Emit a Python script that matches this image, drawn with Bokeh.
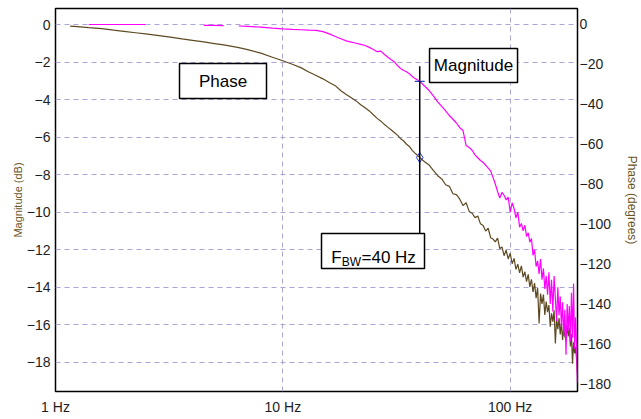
import numpy as np
from bokeh.plotting import figure
from bokeh.models import Range1d, LinearAxis, FixedTicker, CustomJSTickFormatter, ColumnDataSource
from bokeh.core.properties import value
from bokeh.embed import file_html
from bokeh.resources import INLINE

nan = float("nan")

freq_hz = [1.16, 1.25, 1.4, 1.6, 1.8, 2.0, 2.25, 2.49, 2.8, 3.2, 3.6, 4.0, 4.49, 5.0, 5.49, 5.9, 6.4, 7.0, 8.0, 9.0,
           10, 11, 12, 13, 14, 15, 16, 17, 18, 19,
           20, 21, 22, 23, 24, 25, 26, 27, 28, 29,
           30, 31, 32, 33, 34, 35, 36, 37, 38, 39,
           40, 42, 44, 46, 48, 50, 52, 54, 56, 58,
           60, 62, 64, 66, 68, 70, 72, 74, 76, 78,
           80, 82, 84, 86, 88, 90, 92, 94, 96, 98,
           100, 102, 104, 106, 108, 110, 112, 114, 116, 118,
           120, 122, 124, 126, 128, 130, 132, 134, 136, 138,
           140, 142, 144, 146, 148, 150, 152, 154, 156, 158,
           160, 162, 164, 166, 168, 170, 172, 174, 176, 178,
           180, 182, 184, 186, 188, 190, 192, 194, 196, 197.5]

magnitude_db = [nan, nan, 0.0, 0.0, 0.0, 0.0, 0.0, 0.0, nan, nan, nan, nan, -0.05, -0.05, -0.06, nan, -0.08, -0.1, -0.14, -0.19,
                -0.23, -0.26, -0.28, -0.3, -0.31, -0.38, -0.5, -0.64, -0.76, -0.87,
                -0.94, -1.0, -1.06, -1.12, -1.22, -1.33, -1.45, -1.42, -1.6, -1.75,
                -1.88, -2.0, -2.2, -2.35, -2.45, -2.52, -2.62, -2.76, -2.87, -2.95,
                -3.03, -3.28, -3.52, -3.82, -4.12, -4.36, -4.6, -4.85, -5.05, -5.25,
                -5.5, -5.65, -6.45, -6.55, -6.7, -6.95, -7.1, -7.25, -7.35, -7.5,
                -7.65, -7.8, -8.15, -8.5, -8.9, -9.25, -8.95, -9.1, -9.35, -9.2,
                -10.0, -9.5, -9.8, -10.3, -10.0, -10.8, -10.6, -11.0, -10.7, -11.3,
                -11.1, -11.6, -11.4, -12.3, -12.0, -12.9, -12.6, -13.3, -12.5, -13.6,
                -13.0, -14.1, -13.4, -14.4, -13.2, -14.9, -13.6, -15.3, -13.4, -14.6,
                -15.8, -14.0, -15.5, -14.5, -16.1, -14.8, -16.6, -15.2, -17.6, -14.9,
                -16.3, -15.0, -16.9, -14.3, -16.7, -13.8, -17.3, -15.6, -17.2, -19.1]

phase_deg = [-1.3, -1.6, -2.1, -2.6, -3.3, -3.9, -4.6, -5.2, -5.9, -6.8, -7.7, -8.4, -9.2, -10.0, -10.7, -11.3, -12.0, -13.0, -14.8, -16.8,
             -18.6, -20.3, -22.0, -24.2, -25.9, -27.6, -29.4, -31.0, -33.5, -35.4,
             -37.0, -38.6, -40.5, -42.0, -43.6, -45.5, -47.3, -48.7, -50.4, -51.8,
             -53.1, -54.5, -55.8, -57.5, -58.6, -60.2, -61.3, -63.1, -64.5, -65.6,
             -66.8, -68.9, -70.6, -73.4, -75.9, -77.5, -80.4, -81.2, -84.9, -85.3,
             -87.6, -90.8, -89.4, -93.7, -94.6, -96.8, -96.0, -99.9, -100.7, -103.5,
             -102.1, -106.8, -107.5, -108.9, -107.0, -112.3, -111.4, -115.8, -113.0, -117.4,
             -114.6, -119.8, -117.1, -122.6, -120.0, -124.3, -120.9, -126.5, -123.8, -128.7,
             -125.1, -131.3, -127.6, -133.9, -129.4, -137.0, -131.8, -149.6, -134.7, -139.8,
             -135.2, -145.3, -138.6, -143.9, -140.4, -151.2, -144.5, -148.7, -143.0, -159.6,
             -147.2, -152.4, -146.9, -155.1, -149.3, -157.8, -151.6, -156.0, -158.0, -150.5,
             -156.0, -152.0, -161.0, -155.0, -169.6, -159.0, -164.5, -161.2, -168.3, -175.0]

x_tick_values = [1, 10, 100]
x_tick_labels = ["1 Hz", "10 Hz", "100 Hz"]
mag_tick_values = [0, -2, -4, -6, -8, -10, -12, -14, -16, -18]
phase_tick_values = [0, -20, -40, -60, -80, -100, -120, -140, -160, -180]

f_bw = [40]
mag_at_bw = [-3.03]
phase_at_bw = [-66.8]

FONT = "Liberation Sans"
BROWN_TXT = "#6b5526"

p = figure(frame_width=522, frame_height=383, x_axis_type="log",
           x_range=Range1d(1, 197.7), y_range=Range1d(-19.56, 0.853),
           output_backend="svg", toolbar_location=None,
           min_border_left=55, min_border_right=56, min_border_top=8, min_border_bottom=26)
p.title.visible = False
p.extra_y_ranges = {"phase": Range1d(-183.5, 7.48)}

p.outline_line_color = "black"
p.outline_line_width = 1.5
p.background_fill_color = "white"
p.border_fill_color = "white"

# x axis
xa = p.xaxis[0]
xa.ticker = FixedTicker(ticks=x_tick_values)
xa.formatter = CustomJSTickFormatter(args=dict(vals=x_tick_values, labs=x_tick_labels),
                                     code="const i = vals.indexOf(tick); return i >= 0 ? labs[i] : '';")
xa.axis_line_color = None
xa.major_tick_line_color = None
xa.minor_tick_line_color = None
xa.major_tick_out = 0
xa.minor_tick_out = 0
xa.major_label_standoff = 7
xa.major_label_text_font = FONT
xa.major_label_text_font_size = "14px"
xa.major_label_text_color = "#1e1e1e"

# left axis
ya = p.yaxis[0]
ya.ticker = FixedTicker(ticks=mag_tick_values)
ya.axis_line_color = None
ya.major_tick_line_color = None
ya.minor_tick_line_color = None
ya.major_tick_out = 0
ya.minor_tick_out = 0
ya.major_label_standoff = 5
ya.major_label_text_font = FONT
ya.major_label_text_font_size = "14px"
ya.major_label_text_color = "#1e1e1e"
ya.axis_label = "Magnitude (dB)"
ya.axis_label_text_font = FONT
ya.axis_label_text_font_size = "11px"
ya.axis_label_text_font_style = "normal"
ya.axis_label_text_color = BROWN_TXT
ya.axis_label_standoff = 0

# right axis
ra = LinearAxis(y_range_name="phase", ticker=FixedTicker(ticks=phase_tick_values))
ra.axis_line_color = None
ra.major_tick_line_color = None
ra.minor_tick_line_color = None
ra.major_tick_out = 0
ra.minor_tick_out = 0
ra.major_label_standoff = 2
ra.major_label_text_font = FONT
ra.major_label_text_font_size = "14px"
ra.major_label_text_color = "#1e1e1e"
ra.axis_label = "Phase (degrees)"
ra.axis_label_text_font = FONT
ra.axis_label_text_font_size = "12px"
ra.axis_label_text_font_style = "normal"
ra.axis_label_text_color = BROWN_TXT
ra.axis_label_standoff = 11
p.add_layout(ra, "right")

# grids
for g in (p.xgrid[0], p.ygrid[0]):
    g.grid_line_color = "#aaa6d6"
    g.grid_line_dash = "5 4"
    g.grid_line_width = 1

src = ColumnDataSource(dict(f=np.array(freq_hz, dtype=float),
                            mag=np.array(magnitude_db, dtype=float),
                            ph=np.array(phase_deg, dtype=float)))

p.line("f", "ph", source=src, y_range_name="phase", line_color="#5e4a22", line_width=1.2)
p.line("f", "mag", source=src, line_color="#ff00ff", line_width=1.2)

# cursor markers at bandwidth frequency
p.scatter(f_bw, mag_at_bw, marker="dash", size=10, line_color="#3344cc", line_width=1.2)
p.scatter(f_bw, phase_at_bw, marker="diamond", size=10, fill_color=None, line_color="#2233dd",
          line_width=1, y_range_name="phase")

# annotation: pointer line and boxes
p.segment(x0=f_bw, y0=[-2.22], x1=f_bw, y1=[-11.14], line_color="black", line_width=1.5)

box_style = dict(width_units="screen", height_units="screen", fill_color="white",
                 line_color="black", line_width=1.5)
p.rect(x=[5.455], y=[-3.012], width=87, height=35, **box_style)
p.rect(x=[68.98], y=[-2.186], width=88, height=34, **box_style)
p.rect(x=[24.92], y=[-12.07], width=103, height=35, **box_style)

p.text(x=[5.455], y=[-3.012], text=["Phase"], text_align="center", text_baseline="middle",
       text_font=value(FONT), text_font_size=value("17px"), text_color="black")
p.text(x=[68.98], y=[-2.186], text=["Magnitude"], text_align="center", text_baseline="middle",
       text_font=value(FONT), text_font_size=value("17px"), text_color="black")
p.text(x=[24.92], y=[-12.07], text=["F"], x_offset=-41.8, y_offset=6.8, text_align="left",
       text_baseline="alphabetic", text_font=value(FONT), text_font_size=value("17px"), text_color="black")
p.text(x=[24.92], y=[-12.07], text=["BW"], x_offset=-31.2, y_offset=11.0, text_align="left",
       text_baseline="alphabetic", text_font=value(FONT), text_font_size=value("12px"), text_color="black")
p.text(x=[24.92], y=[-12.07], text=["=40 Hz"], x_offset=-11.5, y_offset=6.8, text_align="left",
       text_baseline="alphabetic", text_font=value(FONT), text_font_size=value("17px"), text_color="black")

open("out.html", "w").write(file_html(p, INLINE))
